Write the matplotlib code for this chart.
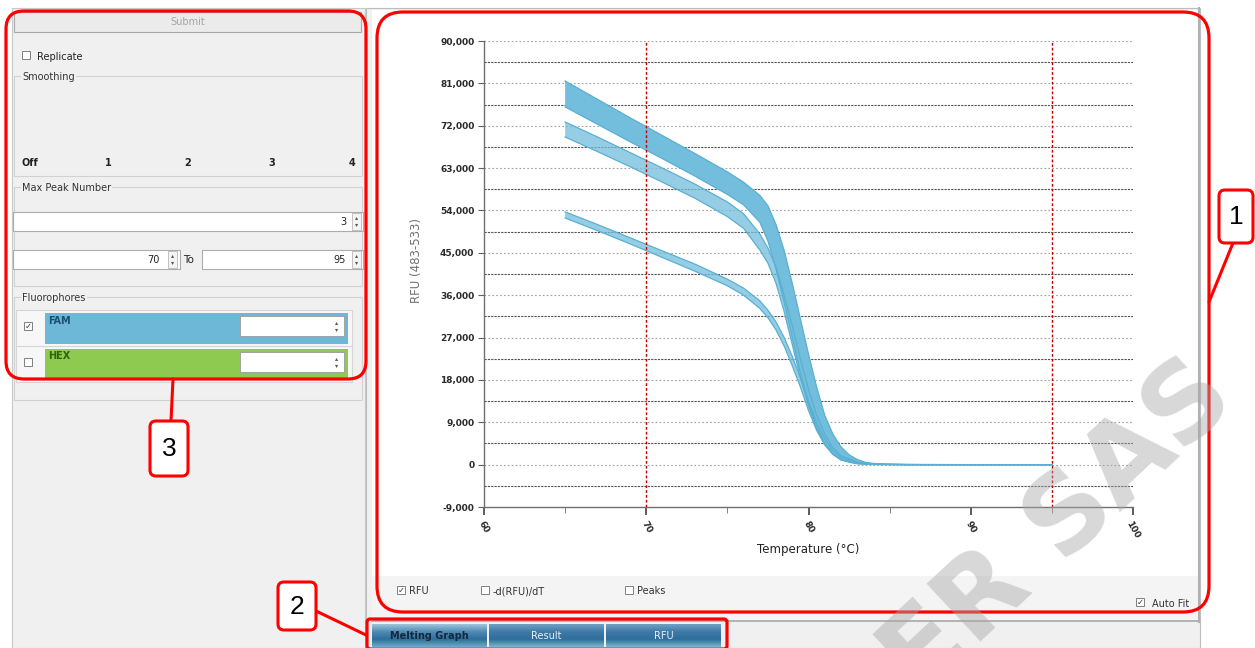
import matplotlib
matplotlib.use('Agg')
import matplotlib.pyplot as plt
from matplotlib.patches import FancyBboxPatch, Rectangle
from matplotlib.colors import LinearSegmentedColormap
from matplotlib.ticker import FuncFormatter, FixedLocator
import numpy as np

# ---------------- data ----------------
top_T = [65, 67, 69, 71, 73, 75, 76, 77, 77.5, 78, 78.5, 79, 79.5, 80, 80.5, 81, 81.5, 82, 82.5, 83, 83.5, 84, 85, 87, 90, 95]
top_hi = [81500, 77600, 73700, 69900, 66100, 62200, 60000, 57200, 55000, 51000, 45500, 38500, 31000, 23500, 16500,
          10500, 6500, 3800, 2100, 1100, 500, 250, 80, 20, 0, 0]
top_lo = [76000, 72300, 68600, 65000, 61300, 57400, 55200, 51500, 47500, 41500, 34500, 27000, 19500, 13000, 8000,
          4500, 2300, 1100, 500, 200, 80, 30, 10, 0, 0, 0]

mid_T = [65, 67, 69, 71, 73, 75, 76, 77, 77.5, 78, 78.5, 79, 79.5, 80, 80.5, 81, 81.5, 82, 83, 84, 86, 90, 95]
mid_hi = [72800, 69600, 66300, 63000, 59600, 55800, 53300, 49000, 46000, 42000, 36000, 29500, 22500, 16000, 10500,
          6500, 3600, 1900, 600, 150, 20, 0, 0]
mid_lo = [69600, 66500, 63300, 60000, 56600, 52700, 50200, 45600, 42800, 38500, 32500, 25500, 18500, 12500, 7500,
          4200, 2200, 1000, 250, 50, 0, 0, 0]

bot_T = [65, 67, 69, 71, 73, 75, 76, 77, 77.5, 78, 78.5, 79, 79.5, 80, 80.5, 81, 81.5, 82, 83, 84, 86, 90, 95]
bot_hi = [53700, 51000, 48200, 45400, 42600, 39400, 37500, 34800, 32800, 30300, 27000, 23000, 18500, 13500, 9000,
          5500, 3000, 1500, 400, 100, 10, 0, 0]
bot_lo = [52400, 49700, 46900, 44000, 41100, 38000, 36000, 33200, 31200, 28600, 25200, 21000, 16500, 11500, 7300,
          4300, 2200, 1000, 250, 50, 0, 0, 0]

x_major = [60, 70, 80, 90, 100]
x_minor = [65, 75, 85, 95]
y_ticks = [-9000, 0, 9000, 18000, 27000, 36000, 45000, 54000, 63000, 72000, 81000, 90000]
y_half = [-4500, 4500, 13500, 22500, 31500, 40500, 49500, 58500, 67500, 76500, 85500]
marker_lines = [70, 95]

smooth_labels = ['Off', '1', '2', '3', '4']
tab_labels = ['Melting Graph', 'Result', 'RFU']
check_labels = ['RFU', '-d(RFU)/dT', 'Peaks']

CURVE = '#72BEDC'
EDGE = '#5AAFD2'
UI = 'DejaVu Sans'

W, H = 1255, 648
fig = plt.figure(figsize=(W / 100, H / 100), dpi=100)
fig.patch.set_facecolor('white')

# ---------------- background UI ----------------
bg = fig.add_axes([0, 0, 1, 1], zorder=0)
bg.axis('off')

def rect(x, y, w, h, fc, ec='none', lw=0.8, ax=bg, z=1):
    ax.add_patch(Rectangle((x, y), w, h, facecolor=fc, edgecolor=ec, linewidth=lw, zorder=z))

def txt(x, y, s, size=7, color='#222222', ha='left', va='center', weight='normal', ax=bg, z=3, family=UI):
    ax.text(x, y, s, fontsize=size, color=color, ha=ha, va=va, fontweight=weight, zorder=z, family=family)

# left panel
rect(12, 8, 353, 640, '#F0F0F0', '#C8C8C8')
# right panel
rect(366, 8, 834, 640, '#F0F0F0', '#BDBDBD')
rect(372, 10, 826, 566, 'white')
rect(372, 576, 826, 45, '#F4F4F4')
bg.plot([372, 1198], [621, 621], color='#A8A8A8', lw=1.2, zorder=2)
bg.plot([1199, 1199], [8, 622], color='#B0B0B0', lw=1.5, zorder=2)

# Submit button
rect(14, 12, 347, 20, '#EBEBEB', '#A8A8A8')
txt(188, 22, 'Submit', size=7, color='#A5A5A5', ha='center')

def checkbox(x, y, checked=False, z=3):
    rect(x, y - 4, 8, 8, 'white', '#808080', lw=0.7, z=z)
    if checked:
        txt(x + 4, y, '\u2713', size=6, color='#333333', ha='center', z=z + 1)

checkbox(22, 55)
txt(37, 57, 'Replicate', size=7)

# group boxes
def group(x0, y0, x1, y1, label):
    rect(x0, y0, x1 - x0, y1 - y0, 'none', '#D2D2D2', lw=0.8, z=2)
    bg.text(22, y0 + 1, label, fontsize=7, color='#333333', va='center', ha='left', family=UI, zorder=3,
            bbox=dict(facecolor='#F0F0F0', edgecolor='none', pad=1))

group(14, 76, 362, 176, 'Smoothing')
for lab, xp in zip(smooth_labels, [30, 108, 188, 272, 352]):
    txt(xp, 163, lab, size=7, weight='bold', ha='center')

group(14, 187, 362, 286, 'Max Peak Number')

def spinner(x, y):
    rect(x, y, 9, 17, '#F4F4F4', '#B8B8B8', lw=0.6, z=3)
    txt(x + 4.5, y + 5, '\u25b4', size=4.5, color='#555555', ha='center', z=4)
    txt(x + 4.5, y + 12, '\u25be', size=4.5, color='#555555', ha='center', z=4)

rect(13, 212, 350, 19, 'white', '#ABABAB', z=2)
txt(346, 222, '3', size=7, ha='right')
spinner(352, 213)

rect(13, 250, 167, 19, 'white', '#ABABAB', z=2)
txt(160, 260, '70', size=7, ha='right')
spinner(168, 251)
txt(183, 260, 'To', size=7.5)
rect(202, 250, 161, 19, 'white', '#ABABAB', z=2)
txt(346, 260, '95', size=7, ha='right')
spinner(352, 251)

group(14, 297, 362, 400, 'Fluorophores')
rect(16, 310, 336, 36, '#F7F7F7', '#D6D6D6', z=2)
rect(16, 346, 336, 36, '#F7F7F7', '#D6D6D6', z=2)
checkbox(24, 326, checked=True)
checkbox(24, 362)
rect(45, 313, 303, 31, '#6DB7D7', z=3)
txt(48, 321, 'FAM', size=7, color='#1D4E78', weight='bold', z=4)
rect(240, 316, 104, 20, 'white', '#9A9A9A', lw=0.6, z=4)
spinner(332, 318)
rect(45, 349, 303, 31, '#8DCA4F', z=3)
txt(48, 356, 'HEX', size=7, color='#2C6410', weight='bold', z=4)
rect(240, 352, 104, 20, 'white', '#9A9A9A', lw=0.6, z=4)
spinner(332, 354)

# bottom check boxes under chart
for lab, cx, chk in zip(check_labels, [397, 481, 625], [True, False, False]):
    checkbox(cx, 590, checked=chk)
    txt(cx + 12, 591, lab, size=7, color='#333333')
checkbox(1136, 602, checked=True)
txt(1152, 604, 'Auto Fit', size=7, color='#333333')

# tabs
tab_x = [371, 488, 605, 722]
cm_sel = LinearSegmentedColormap.from_list('sel', ['#9CC3DA', '#4F89B3', '#2E6E9C', '#6FA6C8'])
cm_tab = LinearSegmentedColormap.from_list('tab', ['#6E9FC2', '#3F7AA7', '#2F6D9B', '#7EB1D0'])
grad = np.linspace(0, 1, 30).reshape(-1, 1)
for i, lab in enumerate(tab_labels):
    bg.imshow(grad, extent=(tab_x[i] + 1, tab_x[i + 1] - 1, 647, 624), cmap=cm_sel if i == 0 else cm_tab,
              aspect='auto', zorder=2)
    txt((tab_x[i] + tab_x[i + 1]) / 2, 636, lab, size=7, weight='bold' if i == 0 else 'normal',
        color='#13293D' if i == 0 else '#E8F0F6', ha='center', z=4)

bg.set_xlim(0, W)
bg.set_ylim(H, 0)

# ---------------- chart ----------------
ax = fig.add_axes([484 / W, 1 - 507 / H, (1133 - 484) / W, (507 - 41) / H], zorder=1)
ax.set_facecolor('none')

def band(T, hi, lo, alpha):
    ax.fill(list(T) + list(T)[::-1], list(hi) + list(lo)[::-1], color=CURVE, alpha=alpha, lw=0, zorder=3)
    ax.plot(T, hi, color=EDGE, lw=0.9, zorder=4)
    ax.plot(T, lo, color=EDGE, lw=0.9, zorder=4)

band(top_T, top_hi, top_lo, 1.0)
band(mid_T, mid_hi, mid_lo, 0.75)
band(bot_T, bot_hi, bot_lo, 0.75)

for yv in y_ticks:
    ax.axhline(yv, color='#A0A0A0', lw=0.8, ls=(0, (1.5, 2)), zorder=1)
for yv in y_half:
    ax.axhline(yv, color='#505050', lw=0.8, ls=(0, (2, 1)), zorder=1)
for xv in marker_lines:
    ax.axvline(xv, color='#C00000', lw=1.0, ls=(0, (2, 1.5)), zorder=5)

ax.set_xlim(60, 100)
ax.set_ylim(-9000, 90000)
for s in ['top', 'right']:
    ax.spines[s].set_visible(False)
for s in ['left', 'bottom']:
    ax.spines[s].set_color('#707070')
    ax.spines[s].set_linewidth(1.0)

ax.yaxis.set_major_locator(FixedLocator(y_ticks))
ax.yaxis.set_major_formatter(FuncFormatter(lambda v, p: f'{int(v):,}'))
ax.xaxis.set_major_locator(FixedLocator(x_major))
ax.xaxis.set_minor_locator(FixedLocator(x_minor))
ax.tick_params(axis='y', labelsize=6.5, colors='#606060', labelcolor='#2A2A2A', length=4, pad=3)
ax.tick_params(axis='x', which='major', labelsize=6.5, colors='#404040', labelcolor='#2A2A2A', length=6, width=1.2,
               pad=3, labelrotation=-60)
ax.tick_params(axis='x', which='minor', colors='#707070', length=4)
for lab in ax.get_yticklabels() + ax.get_xticklabels():
    lab.set_fontweight('bold')
for lab in ax.get_xticklabels():
    lab.set_ha('center')

ax.set_xlabel('Temperature (\u00b0C)', fontsize=8.5, color='#222222')
ax.xaxis.set_label_coords(0.5, -(550 - 507) / 466)
ax.xaxis.label.set_va('center')
ax.set_ylabel('RFU (483-533)', fontsize=8.5, color='#707070')
ax.yaxis.set_label_coords(-(484 - 416) / 649, 0.53)
ax.yaxis.label.set_va('center')

# ---------------- annotation overlay ----------------
ov = fig.add_axes([0, 0, 1, 1], zorder=6)
ov.axis('off')
ov.patch.set_alpha(0)

RED = '#FF0000'
ov.add_patch(FancyBboxPatch((6, 11), 360, 368, boxstyle='round,pad=0,rounding_size=18', fc='none', ec=RED, lw=2.3))
ov.add_patch(FancyBboxPatch((377, 12), 832, 600, boxstyle='round,pad=0,rounding_size=26', fc='none', ec=RED, lw=2.3))
ov.add_patch(FancyBboxPatch((367, 619), 360, 30, boxstyle='round,pad=0,rounding_size=3', fc='none', ec=RED, lw=2.3))

def callout(x, y, w, h, label, line):
    ov.plot(line[0], line[1], color=RED, lw=2.2, solid_capstyle='round')
    ov.add_patch(FancyBboxPatch((x, y), w, h, boxstyle='round,pad=0,rounding_size=6', fc='white', ec=RED, lw=2.2,
                                zorder=3))
    ov.text(x + w / 2, y + h / 2 + 1, label, fontsize=19, ha='center', va='center', family='Liberation Sans',
            color='black', zorder=4)

callout(1219, 190, 34, 53, '1', ([1233, 1209], [243, 302]))
callout(150, 421, 38, 55, '3', ([171, 173], [421, 379]))
callout(278, 582, 38, 48, '2', ([316, 366], [611, 635]))

ov.text(1058, 528, 'ER SAS', fontsize=78, fontweight='bold', color='#A8A8A8', alpha=0.45, rotation=43,
        rotation_mode='anchor', ha='center', va='center', family='DejaVu Sans', zorder=1)

ov.set_xlim(0, W)
ov.set_ylim(H, 0)

fig.savefig('out.png', dpi=100)
